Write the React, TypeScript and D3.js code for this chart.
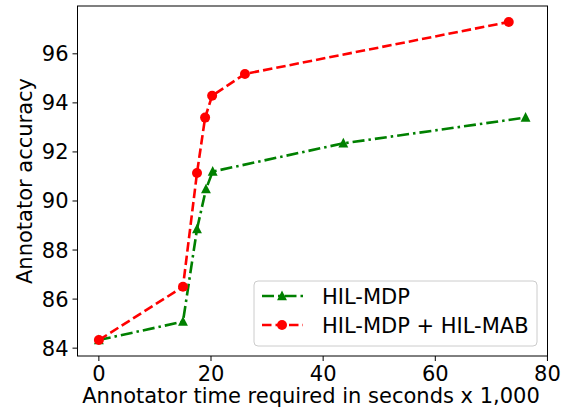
import React from "react";
import * as d3 from "d3";

const mdpX = [0, 15, 17.5, 19.1, 20.3, 43.6, 76.1];
const mdpY = [84.33, 85.08, 88.85, 90.48, 91.2, 92.35, 93.4];
const mabX = [0, 15, 17.5, 18.95, 20.2, 26.05, 73.1];
const mabY = [84.33, 86.5, 91.14, 93.4, 94.29, 95.18, 97.3];
const xTicks = [0, 20, 40, 60, 80];
const yTicks = [84, 86, 88, 90, 92, 94, 96];
const seriesNames = ["HIL-MDP", "HIL-MDP + HIL-MAB"];

export default function App() {
  const W = 567, H = 408;
  const L = 77.5, R = 547.5, T = 6, B = 356;
  const x = d3.scaleLinear().domain([-3.81, 80.01]).range([L, R]);
  const y = d3.scaleLinear().domain([83.68, 97.95]).range([B, T]);
  const line = d3.line<[number, number]>().x(d => x(d[0])).y(d => y(d[1]));
  const mdp = mdpX.map((v, i) => [v, mdpY[i]] as [number, number]);
  const mab = mabX.map((v, i) => [v, mabY[i]] as [number, number]);
  const font = "DejaVu Sans, sans-serif";
  const fs = 21;
  const tri = (cx: number, cy: number, s: number) =>
    `M${cx},${cy - s}L${cx + s * 0.9},${cy + s * 0.75}L${cx - s * 0.9},${cy + s * 0.75}Z`;
  return (
    <svg width={W} height={H} style={{ position: "absolute", left: 0, top: 0 }}>
      <rect width={W} height={H} fill="white" />
      <path d={line(mdp)!} fill="none" stroke="green" strokeWidth={2.6} strokeDasharray="12,4,2.5,4" />
      {mdp.map((d, i) => (
        <path key={i} d={tri(x(d[0]), y(d[1]), 5.5)} fill="green" />
      ))}
      <path d={line(mab)!} fill="none" stroke="red" strokeWidth={2.6} strokeDasharray="9.5,4" />
      {mab.map((d, i) => (
        <circle key={i} cx={x(d[0])} cy={y(d[1])} r={5} fill="red" />
      ))}
      <rect x={L} y={T} width={R - L} height={B - T} fill="none" stroke="black" strokeWidth={1} />
      {xTicks.map(t => (
        <g key={t}>
          <line x1={x(t)} x2={x(t)} y1={B} y2={B + 5} stroke="black" />
          <text x={x(t)} y={B + 25} textAnchor="middle" fontSize={fs} fontFamily={font}>{t}</text>
        </g>
      ))}
      {yTicks.map(t => (
        <g key={t}>
          <line x1={L - 5} x2={L} y1={y(t)} y2={y(t)} stroke="black" />
          <text x={L - 9} y={y(t) + 7.5} textAnchor="end" fontSize={fs} fontFamily={font}>{t}</text>
        </g>
      ))}
      <text x={311} y={403} textAnchor="middle" fontSize={fs} fontFamily={font}>
        Annotator time required in seconds x 1,000
      </text>
      <text transform={`translate(32,${(T + B) / 2}) rotate(-90)`} textAnchor="middle" fontSize={fs} fontFamily={font}>
        Annotator accuracy
      </text>
      <g>
        <rect x={254} y={281} width={283} height={65} rx={4} fill="white" fillOpacity={0.8} stroke="#ccc" />
        <line x1={262} x2={303} y1={296} y2={296} stroke="green" strokeWidth={2.6} strokeDasharray="12,4,2.5,4" />
        <path d={tri(282, 296, 5.5)} fill="green" />
        <text x={322} y={303.5} fontSize={fs} fontFamily={font}>{seriesNames[0]}</text>
        <line x1={262} x2={303} y1={325} y2={325} stroke="red" strokeWidth={2.6} strokeDasharray="9.5,4" />
        <circle cx={282} cy={325} r={5} fill="red" />
        <text x={322} y={332.5} fontSize={fs} fontFamily={font}>{seriesNames[1]}</text>
      </g>
    </svg>
  );
}
